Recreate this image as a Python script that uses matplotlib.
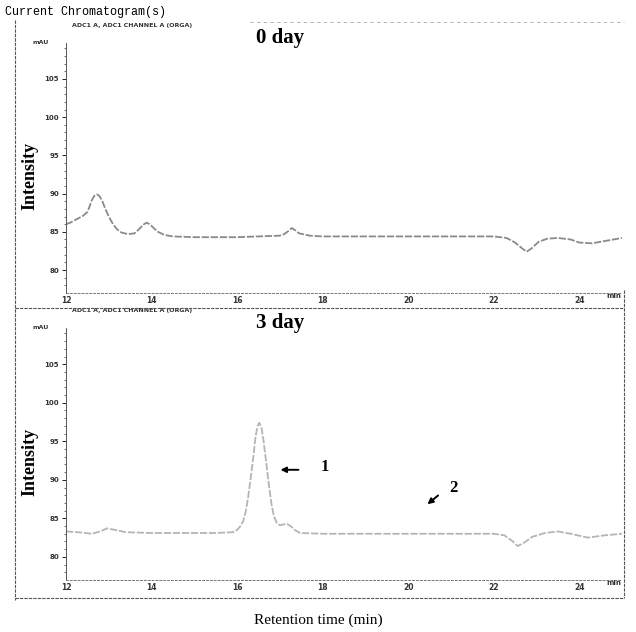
import numpy as np
import matplotlib.pyplot as plt
from matplotlib.lines import Line2D

# chromatogram traces (time in min, signal in mAU)
t_day0 = [12.0, 12.1, 12.2, 12.3, 12.4, 12.5, 12.55, 12.6, 12.66, 12.72, 12.78, 12.85,
          12.92, 13.0, 13.1, 13.2, 13.3, 13.45, 13.6, 13.7, 13.8, 13.88, 13.96, 14.05,
          14.15, 14.3, 14.5, 15.0, 15.5, 16.0, 16.5, 17.0, 17.1, 17.2, 17.28, 17.36,
          17.45, 17.7, 18.0, 19.0, 20.0, 21.0, 22.0, 22.3, 22.5, 22.65, 22.77, 22.9,
          23.05, 23.25, 23.5, 23.8, 24.0, 24.3, 24.6, 25.0]
i_day0 = [86.0, 86.2, 86.5, 86.8, 87.1, 87.6, 88.3, 89.1, 89.7, 89.9, 89.7, 89.0,
          88.0, 87.0, 86.0, 85.3, 84.9, 84.7, 84.8, 85.3, 85.9, 86.2, 86.0, 85.5,
          85.0, 84.6, 84.4, 84.3, 84.3, 84.3, 84.4, 84.5, 84.7, 85.1, 85.5, 85.2,
          84.8, 84.5, 84.4, 84.4, 84.4, 84.4, 84.4, 84.2, 83.6, 82.9, 82.4, 82.9,
          83.7, 84.1, 84.2, 84.0, 83.6, 83.5, 83.8, 84.2]

t_day3 = [12.0, 12.3, 12.6, 12.8, 12.96, 13.15, 13.4, 14.0, 14.5, 15.0, 15.5, 15.9,
          16.0, 16.08, 16.14, 16.2, 16.26, 16.32, 16.38, 16.43, 16.48, 16.52, 16.57,
          16.62, 16.68, 16.74, 16.8, 16.86, 16.93, 17.0, 17.08, 17.16, 17.25, 17.35,
          17.47, 18.0, 19.0, 20.0, 21.0, 22.0, 22.25, 22.45, 22.56, 22.7, 22.9, 23.2,
          23.5, 23.8, 24.2, 24.6, 25.0]
i_day3 = [83.3, 83.2, 83.0, 83.3, 83.7, 83.5, 83.2, 83.1, 83.1, 83.1, 83.1, 83.2,
          83.5, 84.0, 84.6, 85.8, 87.8, 90.3, 93.0, 95.5, 97.0, 97.4, 96.8,
          95.0, 92.3, 89.5, 87.0, 85.3, 84.4, 84.1, 84.2, 84.3, 84.0, 83.5,
          83.1, 83.0, 83.0, 83.0, 83.0, 83.0, 82.8, 82.0, 81.4, 81.8, 82.6, 83.1,
          83.3, 83.0, 82.5, 82.8, 83.0]

xticks = [12, 14, 16, 18, 20, 22, 24]
yticks = [80, 85, 90, 95, 100, 105]
panel_labels = ['0 day', '3 day']

W, H = 636, 632
fig = plt.figure(figsize=(W / 100, H / 100), dpi=100)


def fx(px):
    return px / W


def fy(py):
    return 1 - py / H


def panel(top, bottom, t, y, color, label):
    # axes box in pixels: x 66..622, y top..bottom
    ax = fig.add_axes([fx(66), fy(bottom), fx(622 - 66), (bottom - top) / H])
    ax.plot(t, y, color=color, linewidth=1.3, linestyle=(0, (4, 1)))
    ax.set_xlim(12, 25)
    ax.set_ylim(77, 109.7)
    for s in ['top', 'right']:
        ax.spines[s].set_visible(False)
    ax.spines['left'].set_linestyle((0, (3, 1)))
    ax.spines['left'].set_linewidth(0.7)
    ax.spines['left'].set_color('#555555')
    ax.spines['bottom'].set_linestyle((0, (2, 2)))
    ax.spines['bottom'].set_linewidth(0.7)
    ax.spines['bottom'].set_color('#777777')
    ax.set_yticks(yticks)
    ax.set_yticklabels([str(v) for v in yticks], fontsize=5, fontweight='bold',
                       color='#333333')
    ax.set_yticks(np.arange(78, 110, 1), minor=True)
    ax.tick_params(axis='y', length=3, width=0.6, pad=2)
    ax.tick_params(axis='y', which='minor', length=1.5, width=0.4)
    ax.set_xticks(xticks)
    ax.set_xticklabels([str(v) for v in xticks], fontsize=5.5, fontweight='bold',
                       color='#333333')
    ax.tick_params(axis='x', length=0, pad=2)
    ax.text(24.8, 77, 'min', fontsize=5, fontweight='bold', ha='center', va='top',
            color='#333333')
    ax.text(-0.03, 109.7, 'mAU', transform=ax.get_yaxis_transform(), fontsize=4.5,
            fontweight='bold', ha='right', va='center', color='#333333')
    ax.set_ylabel('Intensity', family='Liberation Serif', fontsize=13,
                  fontweight='bold', labelpad=6)
    ax.yaxis.set_label_coords(-0.05, 0.47)
    ax.text(0.01, 1.07, 'ADC1 A, ADC1 CHANNEL A (ORGA)', transform=ax.transAxes,
            fontsize=4.5, fontweight='bold', color='#333333', va='center')
    ax.text(0.385, 1.02, label, transform=ax.transAxes, family='Liberation Serif',
            fontsize=15, fontweight='bold', va='center', ha='center')
    return ax


ax1 = panel(43, 293, t_day0, i_day0, '#8a8a8a', panel_labels[0])
ax2 = panel(328, 580, t_day3, i_day3, '#b5b5b5', panel_labels[1])

# arrows pointing at the 3 day peaks
ax2.annotate('', xy=(16.95, 91.3), xytext=(17.5, 91.3),
             arrowprops=dict(arrowstyle='-|>', color='black', lw=1.4,
                             mutation_scale=8))
ax2.text(18.05, 91.7, '1', family='Liberation Serif', fontsize=12,
         fontweight='bold', ha='center', va='center')
ax2.annotate('', xy=(20.4, 86.6), xytext=(20.75, 88.2),
             arrowprops=dict(arrowstyle='-|>', color='black', lw=1.4,
                             mutation_scale=8))
ax2.text(21.05, 89.0, '2', family='Liberation Serif', fontsize=12,
         fontweight='bold', ha='center', va='center')

# outer frame of the report page
frame = dict(color='#555555', linewidth=0.8, linestyle=(0, (3, 1)))
fig.add_artist(Line2D([fx(15), fx(15)], [fy(20), fy(600)], **frame))
fig.add_artist(Line2D([fx(15), fx(624)], [fy(308), fy(308)], **frame))
fig.add_artist(Line2D([fx(15), fx(624)], [fy(598), fy(598)], **frame))
fig.add_artist(Line2D([fx(624), fx(624)], [fy(290), fy(598)], **frame))
fig.add_artist(Line2D([fx(250), fx(624)], [fy(22), fy(22)], color='#aaaaaa',
                      linewidth=0.6, linestyle=(0, (4, 4))))

fig.text(fx(5), fy(12), 'Current Chromatogram(s)', family='Liberation Mono',
         fontsize=8.5, va='center', ha='left')
fig.text(fx(318), fy(620), 'Retention time (min)', family='Liberation Serif',
         fontsize=11, va='center', ha='center')

fig.savefig('out.png', dpi=100)
